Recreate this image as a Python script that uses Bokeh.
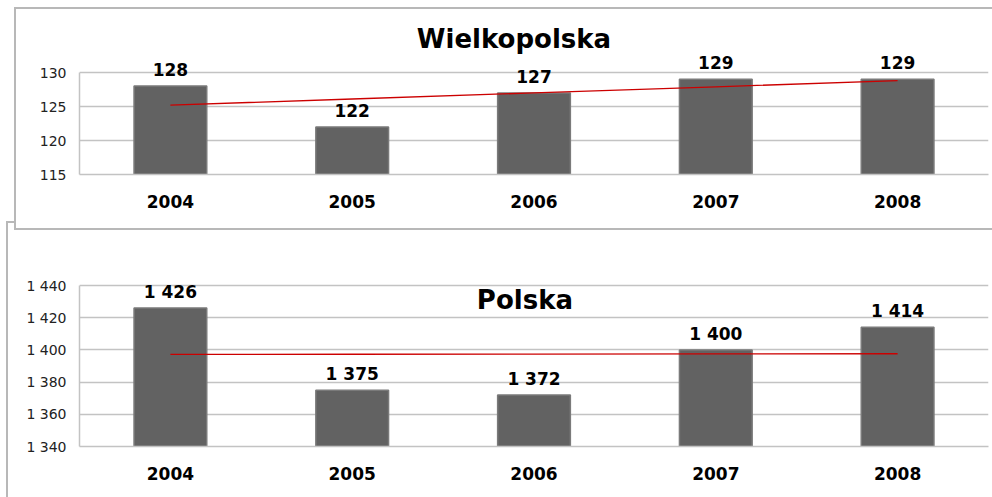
import numpy as np
from bokeh.plotting import figure
from bokeh.layouts import column
from bokeh.models import (FactorRange, Range1d, FixedTicker, Label,
                          LabelSet, ColumnDataSource, CustomJSTickFormatter)
from bokeh.core.properties import value
from bokeh.embed import file_html
from bokeh.resources import INLINE

years = ["2004", "2005", "2006", "2007", "2008"]
wlkp_values = [128, 122, 127, 129, 129]
polska_values = [1426, 1375, 1372, 1400, 1414]
wlkp_ticks = [115, 120, 125, 130]
polska_ticks = [1340, 1360, 1380, 1400, 1420, 1440]
wlkp_title = "Wielkopolska"
polska_title = "Polska"

FONT = "DejaVu Sans"
GRID = "#c3c3c3"
BORDER = "#b8b8b8"
BAR = "#626262"
TREND = "#cc0000"
W = 992


def fmt(v):
    return f"{v:,}".replace(",", " ")


space_fmt = CustomJSTickFormatter(code="""
return String(tick).replace(/\\B(?=(\\d{3})+(?!\\d))/g, ' ');
""")


def rect_styles(rects):
    # rects: list of (color, x, y, w, h); first entry is painted on top
    return {
        "background-color": "white",
        "background-image": ", ".join(f"linear-gradient({c},{c})" for c, *_ in rects),
        "background-position": ", ".join(f"{x}px {y}px" for _, x, y, _, _ in rects),
        "background-size": ", ".join(f"{w}px {h}px" for _, _, _, w, h in rects),
        "background-repeat": "no-repeat",
    }


def make_panel(vals, ticks, title, height, mb_left, plot_h, mb_bottom, title_x, title_y,
               lab_off):
    # frame spans from canvas top down to the lowest tick; the gridded part is plot_h px tall
    unit_px = plot_h / (ticks[-1] - ticks[0])
    frame_h = height - mb_bottom
    y_end = ticks[0] + frame_h / unit_px
    p = figure(x_range=FactorRange(*years), y_range=Range1d(ticks[0], y_end),
               width=W, height=height, output_backend="svg", toolbar_location=None,
               min_border_left=mb_left, min_border_right=4,
               min_border_top=0, min_border_bottom=mb_bottom)
    p.outline_line_color = None
    p.background_fill_color = None
    p.border_fill_color = None

    src = ColumnDataSource(dict(x=years, top=vals, lab=[fmt(v) for v in vals]))
    p.vbar(x="x", top="top", bottom=ticks[0], width=0.4, source=src,
           fill_color=BAR, line_color="#7a7a7a", line_width=1.5)

    # linear trend line
    idx = np.arange(len(vals))
    k, b = np.polyfit(idx, np.array(vals, dtype=float), 1)
    p.line(years, list(k * idx + b), line_color=TREND, line_width=1.3)

    p.add_layout(LabelSet(x="x", y="top", text="lab", source=src, text_align="center",
                          text_baseline="bottom", y_offset=lab_off, text_font=value(FONT),
                          text_font_style="bold", text_font_size="17px",
                          text_color="#000000"))

    p.add_layout(Label(x=title_x, y=title_y, text=title, text_align="center",
                       text_baseline="middle", text_font=FONT,
                       text_font_style="bold", text_font_size="26px",
                       text_color="#000000"))

    p.xgrid.grid_line_color = None
    p.ygrid.grid_line_color = GRID
    p.ygrid.grid_line_width = 1.5
    p.yaxis.ticker = FixedTicker(ticks=ticks)
    p.yaxis.formatter = space_fmt
    p.yaxis.bounds = (ticks[0], ticks[-1])
    for ax in (p.xaxis[0], p.yaxis[0]):
        ax.axis_line_color = GRID
        ax.axis_line_width = 1.5
        ax.major_tick_line_color = None
        ax.minor_tick_line_color = None
        ax.major_tick_out = 0
        ax.major_tick_in = 0
    p.yaxis.major_label_text_font = FONT
    p.yaxis.major_label_text_font_size = "14px"
    p.yaxis.major_label_text_color = "#222222"
    p.yaxis.major_label_standoff = 13
    p.xaxis.major_label_text_font = FONT
    p.xaxis.major_label_text_font_style = "bold"
    p.xaxis.major_label_text_font_size = "17px"
    p.xaxis.major_label_text_color = "#000000"
    p.xaxis.major_label_standoff = 20
    return p


top = make_panel(wlkp_values, wlkp_ticks, wlkp_title, 230, 72, 102, 56, 2.39, 135.0, 10)
top.styles = rect_styles([
    ("white", 16, 9, 976, 219),
    (BORDER, 14, 7, 978, 223),
    ("white", 8, 223, 20, 20),
    (BORDER, 6, 221, 20, 20),
])

bottom = make_panel(polska_values, polska_ticks, polska_title, 267, 79, 161, 51, 2.45, 1430.7, 6)
bottom.styles = rect_styles([
    ("white", 8, 0, 984, 267),
    (BORDER, 6, 0, 986, 267),
])

layout = column(top, bottom, spacing=0)
open("out.html", "w").write(file_html(layout, INLINE))
